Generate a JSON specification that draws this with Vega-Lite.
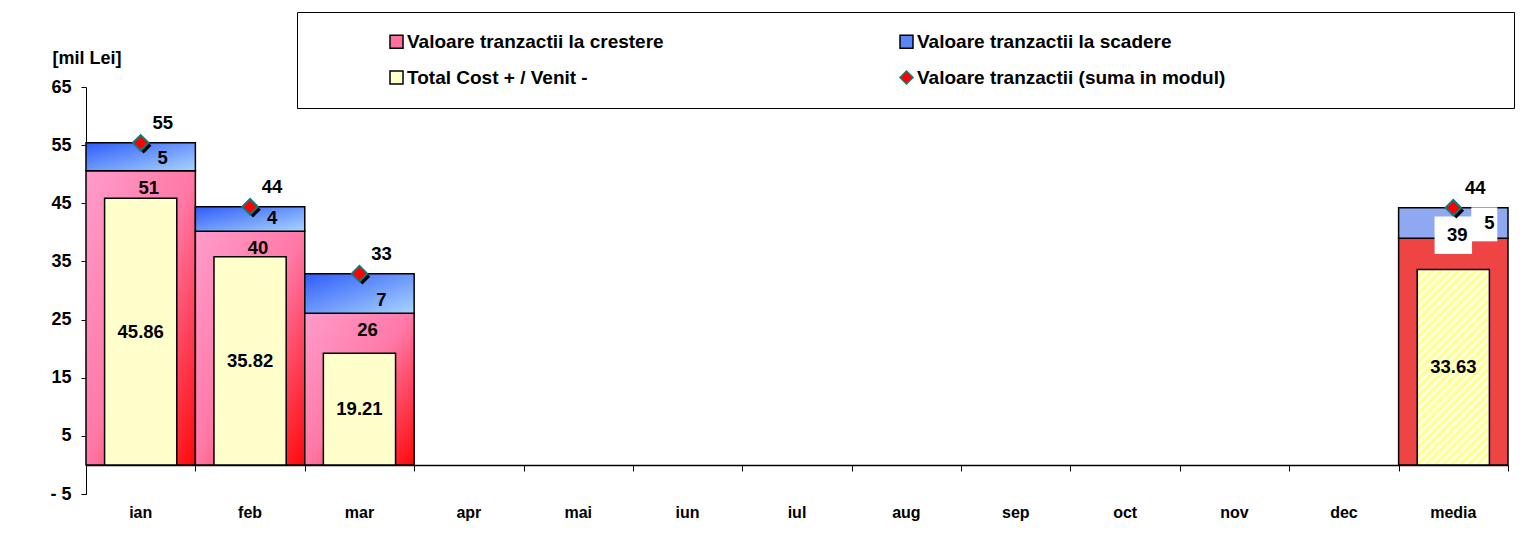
{
  "$schema": "https://vega.github.io/schema/vega-lite/v6.json",
  "width": 1422,
  "height": 407,
  "autosize": {"type": "none"},
  "padding": {"left": 86, "top": 87, "right": 27, "bottom": 41},
  "background": "white",
  "config": {
    "view": {"stroke": null},
    "font": "Liberation Sans",
    "text": {"font": "Liberation Sans", "fontSize": 18.5, "fontWeight": "bold", "color": "black", "baseline": "middle", "align": "center"}
  },
  "data": {
    "values": [
      {"m": "ian", "crestere": 50.6, "scadere": 4.8, "total": 55.4, "cost": 45.86},
      {"m": "feb", "crestere": 40.2, "scadere": 4.2, "total": 44.4, "cost": 35.82},
      {"m": "mar", "crestere": 26.1, "scadere": 6.8, "total": 32.9, "cost": 19.21},
      {"m": "media", "crestere": 38.97, "scadere": 5.27, "total": 44.24, "cost": 33.63}
    ]
  },
  "encoding": {
    "x": {
      "field": "m", "type": "nominal",
      "scale": {"domain": ["ian","feb","mar","apr","mai","iun","iul","aug","sep","oct","nov","dec","media"], "paddingInner": 0, "paddingOuter": 0},
      "axis": null
    }
  },
  "resolve": {"axis": {"x": "independent"}},
  "layer": [
    {
      "transform": [{"filter": "datum.m !== 'media'"}],
      "mark": {"type": "bar", "stroke": "black", "strokeWidth": 1.5,
        "color": {"gradient": "linear", "x1": 0, "y1": 0, "x2": 1, "y2": 1,
          "stops": [{"offset": 0, "color": "#FF9CCB"}, {"offset": 0.5, "color": "#FF78A6"}, {"offset": 1, "color": "#FF0808"}]}},
      "encoding": {
        "x": {
          "field": "m", "type": "nominal",
          "scale": {"domain": ["ian","feb","mar","apr","mai","iun","iul","aug","sep","oct","nov","dec","media"], "paddingInner": 0, "paddingOuter": 0},
          "axis": {"orient": "bottom", "domain": false, "ticks": false, "labelPadding": 10, "labelFont": "Liberation Sans", "labelFontSize": 16, "labelFontWeight": "bold", "labelColor": "black", "labelAngle": 0, "title": null}
        },
        "y": {
          "field": "crestere", "type": "quantitative",
          "scale": {"domain": [-5, 65], "nice": false, "zero": false},
          "axis": {
            "values": [-5, 5, 15, 25, 35, 45, 55, 65],
            "labelExpr": "datum.value < 0 ? '-  ' + (-datum.value) : datum.label",
            "grid": false,
            "title": "[mil Lei]", "titleAngle": 0, "titleAlign": "left", "titleBaseline": "middle",
            "titleX": -34, "titleY": -29,
            "titleFont": "Liberation Sans", "titleFontSize": 18, "titleFontWeight": "bold", "titleColor": "black",
            "labelFont": "Liberation Sans", "labelFontSize": 18, "labelFontWeight": "bold", "labelColor": "black",
            "labelPadding": 10, "tickSize": 5, "tickColor": "black", "domainColor": "black", "domainWidth": 1
          }
        }
      }
    },
    {
      "transform": [{"filter": "datum.m === 'media'"}],
      "mark": {"type": "bar", "stroke": "black", "strokeWidth": 1.5, "color": "#EE4444"},
      "encoding": {
        "y": {"field": "crestere", "type": "quantitative", "scale": {"domain": [-5, 65], "nice": false, "zero": false}}
      }
    },
    {
      "transform": [{"filter": "datum.m !== 'media'"}],
      "mark": {"type": "bar", "stroke": "black", "strokeWidth": 1.5,
        "color": {"gradient": "linear", "x1": 0, "y1": 0, "x2": 1, "y2": 1,
          "stops": [{"offset": 0, "color": "#2F5CF8"}, {"offset": 1, "color": "#A8D4FF"}]}},
      "encoding": {
        "y": {"field": "crestere", "type": "quantitative", "scale": {"domain": [-5, 65], "nice": false, "zero": false}},
        "y2": {"field": "total"}
      }
    },
    {
      "transform": [{"filter": "datum.m === 'media'"}],
      "mark": {"type": "bar", "stroke": "black", "strokeWidth": 1.5, "color": "#90A8F2"},
      "encoding": {
        "y": {"field": "crestere", "type": "quantitative", "scale": {"domain": [-5, 65], "nice": false, "zero": false}},
        "y2": {"field": "total"}
      }
    },
    {
      "transform": [{"filter": "datum.m !== 'media'"}],
      "mark": {"type": "bar", "stroke": "black", "strokeWidth": 1.5, "color": "#FFFFCC", "width": {"band": 0.66}},
      "encoding": {
        "x": {
          "field": "m", "type": "nominal",
          "scale": {"domain": ["ian","feb","mar","apr","mai","iun","iul","aug","sep","oct","nov","dec","media"], "paddingInner": 0, "paddingOuter": 0},
          "axis": {"orient": "bottom", "offset": -29.07, "domain": true, "domainColor": "black", "domainWidth": 1.5, "ticks": true, "tickBand": "extent", "tickColor": "black", "tickSize": 6, "tickWidth": 1, "labels": false, "title": null}
        },
        "y": {"field": "cost", "type": "quantitative", "scale": {"domain": [-5, 65], "nice": false, "zero": false}}
      }
    },
    {
      "transform": [{"filter": "datum.m === 'media'"}],
      "mark": {"type": "bar", "stroke": "black", "strokeWidth": 1.5, "width": {"band": 0.66},
        "color": {"gradient": "linear", "x1": 0, "y1": 0, "x2": 0.4435, "y2": 1.205,
          "stops": [
            {"offset": 0, "color": "#FFFF80"}, {"offset": 0.0159, "color": "#FFFFF2"},
            {"offset": 0.0318, "color": "#FFFF80"}, {"offset": 0.0477, "color": "#FFFFF2"},
            {"offset": 0.0636, "color": "#FFFF80"}, {"offset": 0.0795, "color": "#FFFFF2"},
            {"offset": 0.0954, "color": "#FFFF80"}, {"offset": 0.1113, "color": "#FFFFF2"},
            {"offset": 0.1272, "color": "#FFFF80"}, {"offset": 0.1431, "color": "#FFFFF2"},
            {"offset": 0.159, "color": "#FFFF80"}, {"offset": 0.1749, "color": "#FFFFF2"},
            {"offset": 0.1908, "color": "#FFFF80"}, {"offset": 0.2067, "color": "#FFFFF2"},
            {"offset": 0.2226, "color": "#FFFF80"}, {"offset": 0.2385, "color": "#FFFFF2"},
            {"offset": 0.2544, "color": "#FFFF80"}, {"offset": 0.2703, "color": "#FFFFF2"},
            {"offset": 0.2862, "color": "#FFFF80"}, {"offset": 0.3021, "color": "#FFFFF2"},
            {"offset": 0.318, "color": "#FFFF80"}, {"offset": 0.3339, "color": "#FFFFF2"},
            {"offset": 0.3498, "color": "#FFFF80"}, {"offset": 0.3657, "color": "#FFFFF2"},
            {"offset": 0.3816, "color": "#FFFF80"}, {"offset": 0.3975, "color": "#FFFFF2"},
            {"offset": 0.4134, "color": "#FFFF80"}, {"offset": 0.4293, "color": "#FFFFF2"},
            {"offset": 0.4452, "color": "#FFFF80"}, {"offset": 0.4611, "color": "#FFFFF2"},
            {"offset": 0.477, "color": "#FFFF80"}, {"offset": 0.4929, "color": "#FFFFF2"},
            {"offset": 0.5088, "color": "#FFFF80"}, {"offset": 0.5247, "color": "#FFFFF2"},
            {"offset": 0.5406, "color": "#FFFF80"}, {"offset": 0.5565, "color": "#FFFFF2"},
            {"offset": 0.5724, "color": "#FFFF80"}, {"offset": 0.5883, "color": "#FFFFF2"},
            {"offset": 0.6042, "color": "#FFFF80"}, {"offset": 0.6201, "color": "#FFFFF2"},
            {"offset": 0.636, "color": "#FFFF80"}, {"offset": 0.6519, "color": "#FFFFF2"},
            {"offset": 0.6678, "color": "#FFFF80"}, {"offset": 0.6837, "color": "#FFFFF2"},
            {"offset": 0.6996, "color": "#FFFF80"}, {"offset": 0.7155, "color": "#FFFFF2"},
            {"offset": 0.7314, "color": "#FFFF80"}, {"offset": 0.7473, "color": "#FFFFF2"},
            {"offset": 0.7632, "color": "#FFFF80"}, {"offset": 0.7791, "color": "#FFFFF2"},
            {"offset": 0.795, "color": "#FFFF80"}, {"offset": 0.8109, "color": "#FFFFF2"},
            {"offset": 0.8268, "color": "#FFFF80"}, {"offset": 0.8427, "color": "#FFFFF2"},
            {"offset": 0.8586, "color": "#FFFF80"}, {"offset": 0.8745, "color": "#FFFFF2"},
            {"offset": 0.8904, "color": "#FFFF80"}, {"offset": 0.9063, "color": "#FFFFF2"},
            {"offset": 0.9222, "color": "#FFFF80"}, {"offset": 0.9381, "color": "#FFFFF2"},
            {"offset": 0.954, "color": "#FFFF80"}, {"offset": 0.9699, "color": "#FFFFF2"},
            {"offset": 0.9858, "color": "#FFFF80"}, {"offset": 1, "color": "#FFFFF2"}
          ]}},
      "encoding": {
        "y": {"field": "cost", "type": "quantitative", "scale": {"domain": [-5, 65], "nice": false, "zero": false}}
      }
    },
    {
      "transform": [{"filter": "datum.m === 'media'"}],
      "mark": {"type": "point", "shape": "square", "filled": true, "color": "white", "opacity": 1, "size": 1406, "yOffset": -3},
      "encoding": {
        "y": {"field": "crestere", "type": "quantitative", "scale": {"domain": [-5, 65], "nice": false, "zero": false}}
      }
    },
    {
      "transform": [{"filter": "datum.m === 'media'"}],
      "mark": {"type": "point", "shape": "M-0.765,-1H0.765V1H-0.765Z", "filled": true, "color": "white", "opacity": 1, "size": 1156, "xOffset": 31, "yOffset": -14},
      "encoding": {
        "y": {"field": "crestere", "type": "quantitative", "scale": {"domain": [-5, 65], "nice": false, "zero": false}}
      }
    },
    {
      "transform": [{"filter": "datum.m !== 'media'"}],
      "mark": {"type": "text", "dx": 8, "dy": 17},
      "encoding": {
        "y": {"field": "crestere", "type": "quantitative", "scale": {"domain": [-5, 65], "nice": false, "zero": false}},
        "text": {"field": "crestere", "type": "quantitative", "format": ".0f"}
      }
    },
    {
      "transform": [{"filter": "datum.m === 'media'"}],
      "mark": {"type": "text", "dx": 4, "dy": -3},
      "encoding": {
        "y": {"field": "crestere", "type": "quantitative", "scale": {"domain": [-5, 65], "nice": false, "zero": false}},
        "text": {"field": "crestere", "type": "quantitative", "format": ".0f"}
      }
    },
    {
      "transform": [{"filter": "datum.m !== 'media'"}],
      "mark": {"type": "text", "dx": 22, "dy": -13},
      "encoding": {
        "y": {"field": "crestere", "type": "quantitative", "scale": {"domain": [-5, 65], "nice": false, "zero": false}},
        "text": {"field": "scadere", "type": "quantitative", "format": ".0f"}
      }
    },
    {
      "transform": [{"filter": "datum.m === 'media'"}],
      "mark": {"type": "text", "dx": 36, "dy": -15},
      "encoding": {
        "y": {"field": "crestere", "type": "quantitative", "scale": {"domain": [-5, 65], "nice": false, "zero": false}},
        "text": {"field": "scadere", "type": "quantitative", "format": ".0f"}
      }
    },
    {
      "mark": {"type": "text"},
      "encoding": {
        "y": {"field": "cost", "type": "quantitative", "stack": "zero", "bandPosition": 0.5, "scale": {"domain": [-5, 65], "nice": false, "zero": false}},
        "text": {"field": "cost", "type": "quantitative", "format": ".2f"}
      }
    },
    {
      "mark": {"type": "point", "shape": "diamond", "filled": true, "color": "black", "opacity": 1, "size": 240, "xOffset": 3, "yOffset": 3},
      "encoding": {
        "y": {"field": "total", "type": "quantitative", "scale": {"domain": [-5, 65], "nice": false, "zero": false}}
      }
    },
    {
      "mark": {"type": "point", "shape": "diamond", "filled": true, "fill": "#FF0000", "stroke": "#00807F", "strokeWidth": 2, "opacity": 1, "size": 240},
      "encoding": {
        "y": {"field": "total", "type": "quantitative", "scale": {"domain": [-5, 65], "nice": false, "zero": false}}
      }
    },
    {
      "mark": {"type": "text", "dx": 22, "dy": -20},
      "encoding": {
        "y": {"field": "total", "type": "quantitative", "scale": {"domain": [-5, 65], "nice": false, "zero": false}},
        "text": {"field": "total", "type": "quantitative", "format": ".0f"}
      }
    },
    {
      "data": {
        "values": [
          {"s": "Valoare tranzactii la crestere"},
          {"s": "Valoare tranzactii la scadere"},
          {"s": "Total Cost + / Venit -"},
          {"s": "Valoare tranzactii (suma in modul)"}
        ]
      },
      "mark": {"type": "point", "filled": true, "opacity": 0},
      "encoding": {
        "color": {
          "field": "s", "type": "nominal",
          "scale": {
            "domain": ["Valoare tranzactii la crestere", "Valoare tranzactii la scadere", "Total Cost + / Venit -", "Valoare tranzactii (suma in modul)"],
            "range": ["#FF6F9F", "#5B84F5", "#FFFFCC", "#FF0000"]
          },
          "legend": {
            "orient": "none", "legendX": 211, "legendY": -75, "direction": "horizontal",
            "columns": 2, "padding": 20, "strokeColor": "black", "fillColor": "white",
            "symbolSize": 169, "symbolStrokeWidth": 1.5, "symbolOpacity": 1, "symbolStrokeColor": "black",
            "labelFont": "Liberation Sans", "labelFontSize": 19, "labelFontWeight": "bold", "labelColor": "black", "labelLimit": 500,
            "symbolOffset": 70, "labelOffset": 1, "columnPadding": 163, "rowPadding": 16,
            "title": " ", "titleOrient": "right", "titlePadding": 269, "titleFontSize": 12,
            "encode": {"symbols": {"update": {"stroke": {"signal": "datum.value === 'Valoare tranzactii (suma in modul)' ? '#00807F' : 'black'"}}}}
          }
        },
        "shape": {
          "field": "s", "type": "nominal",
          "scale": {
            "domain": ["Valoare tranzactii la crestere", "Valoare tranzactii la scadere", "Total Cost + / Venit -", "Valoare tranzactii (suma in modul)"],
            "range": ["square", "square", "square", "diamond"]
          }
        }
      }
    }
  ]
}
